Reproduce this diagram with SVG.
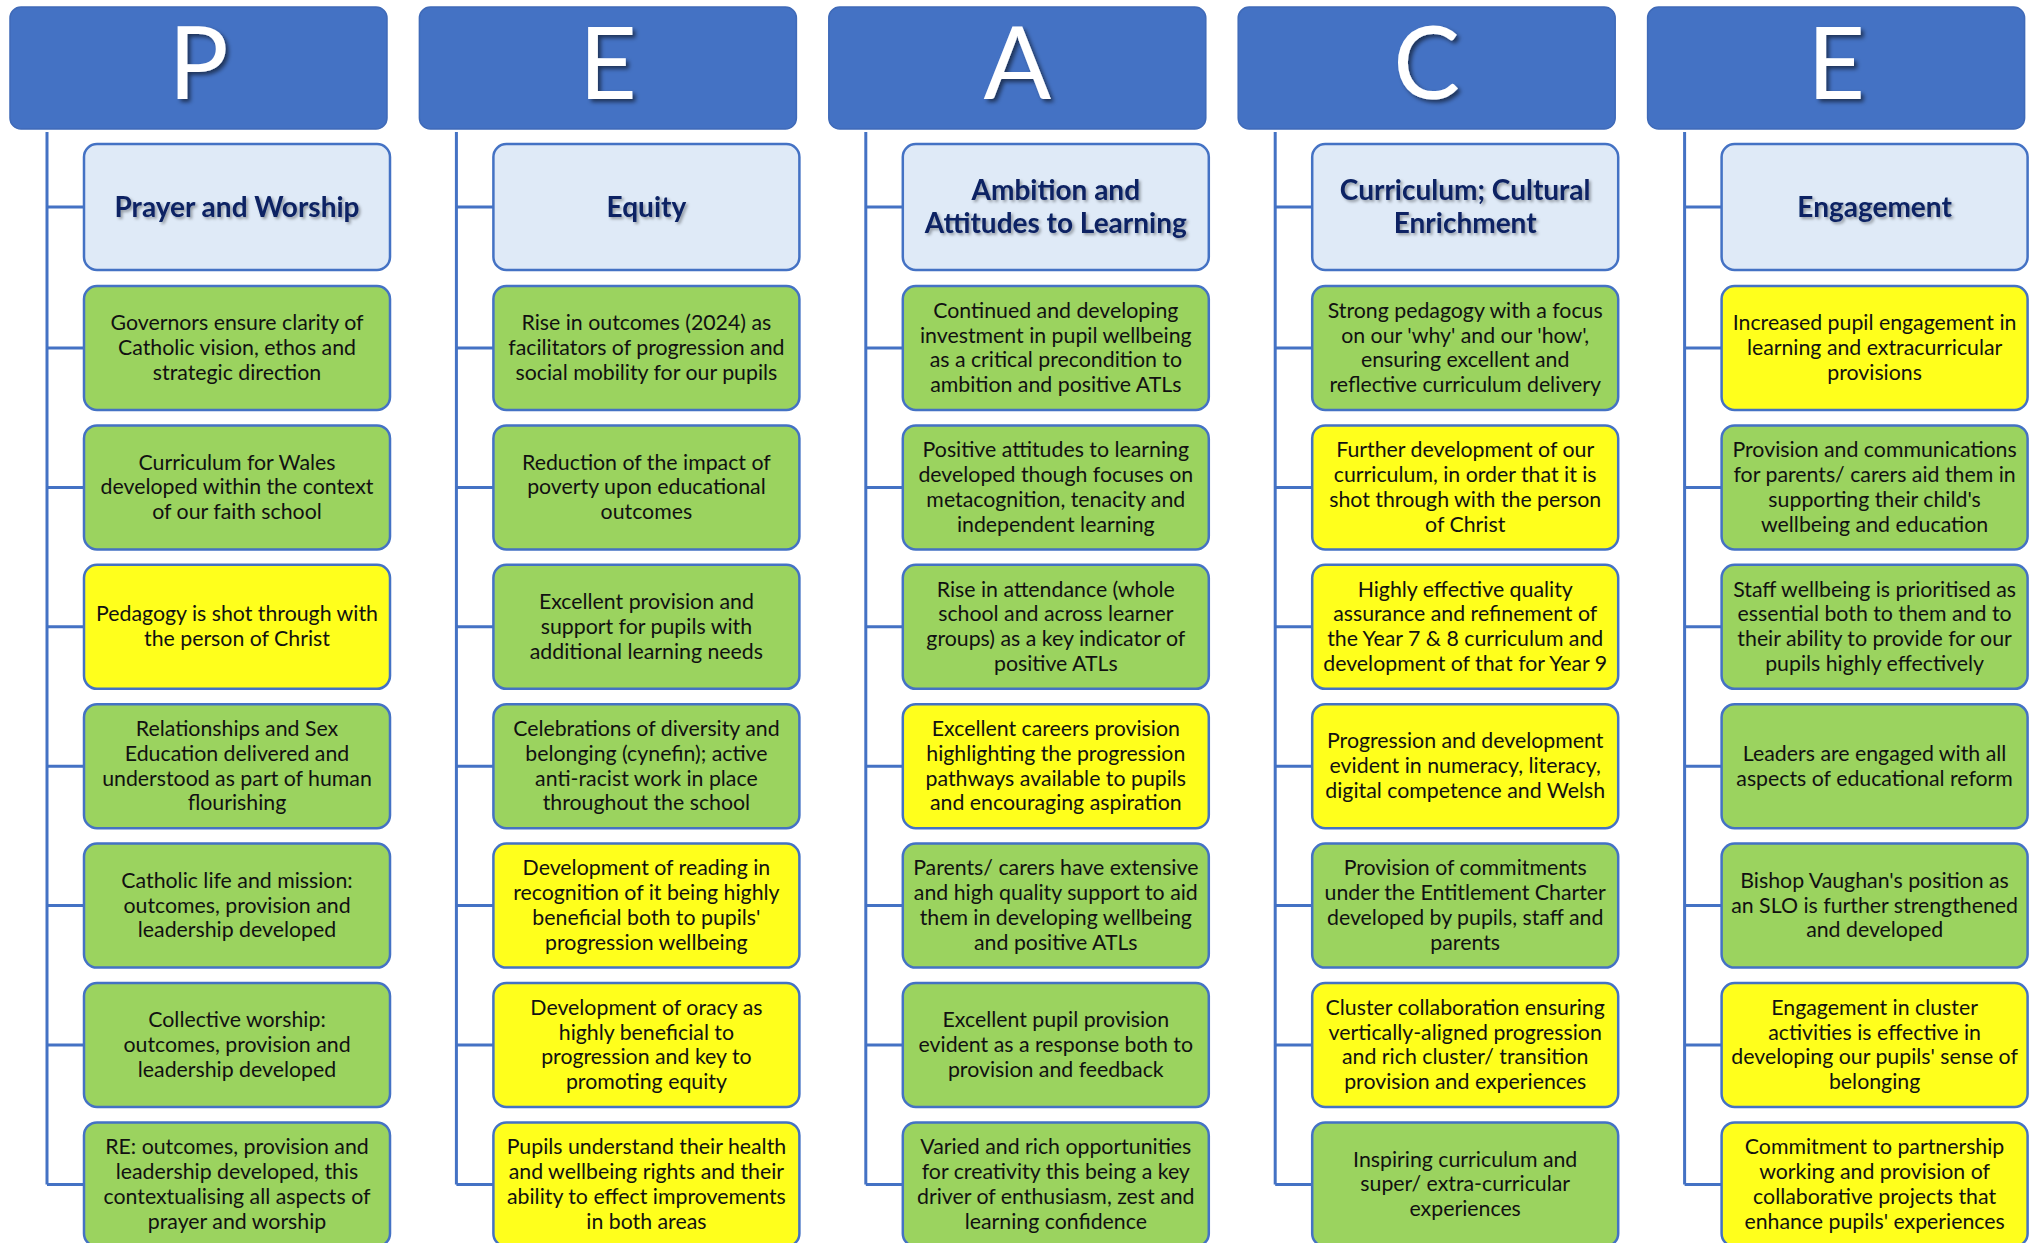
<svg xmlns="http://www.w3.org/2000/svg" width="2037" height="1243" viewBox="0 0 2037 1243">
  <defs>
    <filter id="letterShadow" x="-30%" y="-30%" width="160%" height="160%">
      <feDropShadow dx="3" dy="3" stdDeviation="2" flood-color="#000" flood-opacity="0.55"/>
    </filter>
    <filter id="titleShadow" x="-10%" y="-30%" width="120%" height="160%">
      <feDropShadow dx="2" dy="2" stdDeviation="1.5" flood-color="#000" flood-opacity="0.35"/>
    </filter>
    <style>
      .hdr { fill: #4472C4; stroke: #3F6AB8; stroke-width: 1.5; }
      .letter { font-family: Lato, "Liberation Sans", sans-serif; font-size: 100px; fill: #FFFFFF; text-anchor: middle; filter: url(#letterShadow); }
      .ttl { fill: #DFEAF7; stroke: #4472C4; stroke-width: 2.5; }
      .ttlText { font-family: Lato, "Liberation Sans", sans-serif; font-weight: bold; font-size: 28px; fill: #0B2464; text-anchor: middle; filter: url(#titleShadow); }
      .g { fill: #9BD35F; stroke: #4472C4; stroke-width: 2.5; }
      .y { fill: #FFFF1C; stroke: #4472C4; stroke-width: 2.5; }
      .txt { font-family: Lato, "Liberation Sans", sans-serif; font-size: 21.3px; fill: #111111; text-anchor: middle; }
      .conn { fill: none; stroke: #4472C4; stroke-width: 3; }
    </style>
  </defs>

  <rect width="2037" height="1243" fill="#FFFFFF"/>

  <!-- connectors: a vertical trunk per column with horizontal branches to each box -->
  <g id="connectors" class="conn">
    <path d="M47 132 V1184.4 M47 207 H84 M47 348 H84 M47 487.4 H84 M47 626.8 H84 M47 766.2 H84 M47 905.6 H84 M47 1045 H84 M47 1184.4 H84"/>
    <path d="M456.4 132 V1184.4 M456.4 207 H493.4 M456.4 348 H493.4 M456.4 487.4 H493.4 M456.4 626.8 H493.4 M456.4 766.2 H493.4 M456.4 905.6 H493.4 M456.4 1045 H493.4 M456.4 1184.4 H493.4"/>
    <path d="M865.8 132 V1184.4 M865.8 207 H902.8 M865.8 348 H902.8 M865.8 487.4 H902.8 M865.8 626.8 H902.8 M865.8 766.2 H902.8 M865.8 905.6 H902.8 M865.8 1045 H902.8 M865.8 1184.4 H902.8"/>
    <path d="M1275.2 132 V1184.4 M1275.2 207 H1312.2 M1275.2 348 H1312.2 M1275.2 487.4 H1312.2 M1275.2 626.8 H1312.2 M1275.2 766.2 H1312.2 M1275.2 905.6 H1312.2 M1275.2 1045 H1312.2 M1275.2 1184.4 H1312.2"/>
    <path d="M1684.6 132 V1184.4 M1684.6 207 H1721.6 M1684.6 348 H1721.6 M1684.6 487.4 H1721.6 M1684.6 626.8 H1721.6 M1684.6 766.2 H1721.6 M1684.6 905.6 H1721.6 M1684.6 1045 H1721.6 M1684.6 1184.4 H1721.6"/>
  </g>

  <!-- ===== Column P ===== -->
  <g id="hdr-p"><rect class="hdr" x="10" y="7" width="377" height="122" rx="11"/><text class="letter" x="198.5" y="99">P</text></g>
  <g id="p-title"><rect class="ttl" x="84" y="144" width="306" height="126" rx="13"/><text class="ttlText" x="237" y="217">Prayer and Worship</text></g>
  <g id="p-1"><rect class="g" x="84" y="286" width="306" height="124" rx="13"/>
    <text class="txt" x="237" y="330.2"><tspan x="237">Governors ensure clarity of</tspan><tspan x="237" dy="24.8">Catholic vision, ethos and</tspan><tspan x="237" dy="24.8">strategic direction</tspan></text></g>
  <g id="p-2"><rect class="g" x="84" y="425.4" width="306" height="124" rx="13"/>
    <text class="txt" x="237" y="469.6"><tspan x="237">Curriculum for Wales</tspan><tspan x="237" dy="24.8">developed within the context</tspan><tspan x="237" dy="24.8">of our faith school</tspan></text></g>
  <g id="p-3"><rect class="y" x="84" y="564.8" width="306" height="124" rx="13"/>
    <text class="txt" x="237" y="621.4"><tspan x="237">Pedagogy is shot through with</tspan><tspan x="237" dy="24.8">the person of Christ</tspan></text></g>
  <g id="p-4"><rect class="g" x="84" y="704.2" width="306" height="124" rx="13"/>
    <text class="txt" x="237" y="736"><tspan x="237">Relationships and Sex</tspan><tspan x="237" dy="24.8">Education delivered and</tspan><tspan x="237" dy="24.8">understood as part of human</tspan><tspan x="237" dy="24.8">flourishing</tspan></text></g>
  <g id="p-5"><rect class="g" x="84" y="843.6" width="306" height="124" rx="13"/>
    <text class="txt" x="237" y="887.8"><tspan x="237">Catholic life and mission:</tspan><tspan x="237" dy="24.8">outcomes, provision and</tspan><tspan x="237" dy="24.8">leadership developed</tspan></text></g>
  <g id="p-6"><rect class="g" x="84" y="983" width="306" height="124" rx="13"/>
    <text class="txt" x="237" y="1027.2"><tspan x="237">Collective worship:</tspan><tspan x="237" dy="24.8">outcomes, provision and</tspan><tspan x="237" dy="24.8">leadership developed</tspan></text></g>
  <g id="p-7"><rect class="g" x="84" y="1122.4" width="306" height="124" rx="13"/>
    <text class="txt" x="237" y="1154.2"><tspan x="237">RE: outcomes, provision and</tspan><tspan x="237" dy="24.8">leadership developed, this</tspan><tspan x="237" dy="24.8">contextualising all aspects of</tspan><tspan x="237" dy="24.8">prayer and worship</tspan></text></g>

  <!-- ===== Column E (Equity) ===== -->
  <g id="hdr-e1"><rect class="hdr" x="419.4" y="7" width="377" height="122" rx="11"/><text class="letter" x="607.9" y="99">E</text></g>
  <g id="e1-title"><rect class="ttl" x="493.4" y="144" width="306" height="126" rx="13"/><text class="ttlText" x="646.4" y="217">Equity</text></g>
  <g id="e1-1"><rect class="g" x="493.4" y="286" width="306" height="124" rx="13"/>
    <text class="txt" x="646.4" y="330.2"><tspan x="646.4">Rise in outcomes (2024) as</tspan><tspan x="646.4" dy="24.8">facilitators of progression and</tspan><tspan x="646.4" dy="24.8">social mobility for our pupils</tspan></text></g>
  <g id="e1-2"><rect class="g" x="493.4" y="425.4" width="306" height="124" rx="13"/>
    <text class="txt" x="646.4" y="469.6"><tspan x="646.4">Reduction of the impact of</tspan><tspan x="646.4" dy="24.8">poverty upon educational</tspan><tspan x="646.4" dy="24.8">outcomes</tspan></text></g>
  <g id="e1-3"><rect class="g" x="493.4" y="564.8" width="306" height="124" rx="13"/>
    <text class="txt" x="646.4" y="609"><tspan x="646.4">Excellent provision and</tspan><tspan x="646.4" dy="24.8">support for pupils with</tspan><tspan x="646.4" dy="24.8">additional learning needs</tspan></text></g>
  <g id="e1-4"><rect class="g" x="493.4" y="704.2" width="306" height="124" rx="13"/>
    <text class="txt" x="646.4" y="736"><tspan x="646.4">Celebrations of diversity and</tspan><tspan x="646.4" dy="24.8">belonging (cynefin); active</tspan><tspan x="646.4" dy="24.8">anti-racist work in place</tspan><tspan x="646.4" dy="24.8">throughout the school</tspan></text></g>
  <g id="e1-5"><rect class="y" x="493.4" y="843.6" width="306" height="124" rx="13"/>
    <text class="txt" x="646.4" y="875.4"><tspan x="646.4">Development of reading in</tspan><tspan x="646.4" dy="24.8">recognition of it being highly</tspan><tspan x="646.4" dy="24.8">beneficial both to pupils'</tspan><tspan x="646.4" dy="24.8">progression wellbeing</tspan></text></g>
  <g id="e1-6"><rect class="y" x="493.4" y="983" width="306" height="124" rx="13"/>
    <text class="txt" x="646.4" y="1014.8"><tspan x="646.4">Development of oracy as</tspan><tspan x="646.4" dy="24.8">highly beneficial to</tspan><tspan x="646.4" dy="24.8">progression and key to</tspan><tspan x="646.4" dy="24.8">promoting equity</tspan></text></g>
  <g id="e1-7"><rect class="y" x="493.4" y="1122.4" width="306" height="124" rx="13"/>
    <text class="txt" x="646.4" y="1154.2"><tspan x="646.4">Pupils understand their health</tspan><tspan x="646.4" dy="24.8">and wellbeing rights and their</tspan><tspan x="646.4" dy="24.8">ability to effect improvements</tspan><tspan x="646.4" dy="24.8">in both areas</tspan></text></g>

  <!-- ===== Column A ===== -->
  <g id="hdr-a"><rect class="hdr" x="828.8" y="7" width="377" height="122" rx="11"/><text class="letter" x="1017.3" y="99">A</text></g>
  <g id="a-title"><rect class="ttl" x="902.8" y="144" width="306" height="126" rx="13"/>
    <text class="ttlText" x="1055.8" y="200"><tspan x="1055.8">Ambition and</tspan><tspan x="1055.8" dy="33">Attitudes to Learning</tspan></text></g>
  <g id="a-1"><rect class="g" x="902.8" y="286" width="306" height="124" rx="13"/>
    <text class="txt" x="1055.8" y="317.8"><tspan x="1055.8">Continued and developing</tspan><tspan x="1055.8" dy="24.8">investment in pupil wellbeing</tspan><tspan x="1055.8" dy="24.8">as a critical precondition to</tspan><tspan x="1055.8" dy="24.8">ambition and positive ATLs</tspan></text></g>
  <g id="a-2"><rect class="g" x="902.8" y="425.4" width="306" height="124" rx="13"/>
    <text class="txt" x="1055.8" y="457.2"><tspan x="1055.8">Positive attitudes to learning</tspan><tspan x="1055.8" dy="24.8">developed though focuses on</tspan><tspan x="1055.8" dy="24.8">metacognition, tenacity and</tspan><tspan x="1055.8" dy="24.8">independent learning</tspan></text></g>
  <g id="a-3"><rect class="g" x="902.8" y="564.8" width="306" height="124" rx="13"/>
    <text class="txt" x="1055.8" y="596.6"><tspan x="1055.8">Rise in attendance (whole</tspan><tspan x="1055.8" dy="24.8">school and across learner</tspan><tspan x="1055.8" dy="24.8">groups) as a key indicator of</tspan><tspan x="1055.8" dy="24.8">positive ATLs</tspan></text></g>
  <g id="a-4"><rect class="y" x="902.8" y="704.2" width="306" height="124" rx="13"/>
    <text class="txt" x="1055.8" y="736"><tspan x="1055.8">Excellent careers provision</tspan><tspan x="1055.8" dy="24.8">highlighting the progression</tspan><tspan x="1055.8" dy="24.8">pathways available to pupils</tspan><tspan x="1055.8" dy="24.8">and encouraging aspiration</tspan></text></g>
  <g id="a-5"><rect class="g" x="902.8" y="843.6" width="306" height="124" rx="13"/>
    <text class="txt" x="1055.8" y="875.4"><tspan x="1055.8">Parents/ carers have extensive</tspan><tspan x="1055.8" dy="24.8">and high quality support to aid</tspan><tspan x="1055.8" dy="24.8">them in developing wellbeing</tspan><tspan x="1055.8" dy="24.8">and positive ATLs</tspan></text></g>
  <g id="a-6"><rect class="g" x="902.8" y="983" width="306" height="124" rx="13"/>
    <text class="txt" x="1055.8" y="1027.2"><tspan x="1055.8">Excellent pupil provision</tspan><tspan x="1055.8" dy="24.8">evident as a response both to</tspan><tspan x="1055.8" dy="24.8">provision and feedback</tspan></text></g>
  <g id="a-7"><rect class="g" x="902.8" y="1122.4" width="306" height="124" rx="13"/>
    <text class="txt" x="1055.8" y="1154.2"><tspan x="1055.8">Varied and rich opportunities</tspan><tspan x="1055.8" dy="24.8">for creativity this being a key</tspan><tspan x="1055.8" dy="24.8">driver of enthusiasm, zest and</tspan><tspan x="1055.8" dy="24.8">learning confidence</tspan></text></g>

  <!-- ===== Column C ===== -->
  <g id="hdr-c"><rect class="hdr" x="1238.2" y="7" width="377" height="122" rx="11"/><text class="letter" x="1426.7" y="99">C</text></g>
  <g id="c-title"><rect class="ttl" x="1312.2" y="144" width="306" height="126" rx="13"/>
    <text class="ttlText" x="1465.2" y="200"><tspan x="1465.2">Curriculum; Cultural</tspan><tspan x="1465.2" dy="33">Enrichment</tspan></text></g>
  <g id="c-1"><rect class="g" x="1312.2" y="286" width="306" height="124" rx="13"/>
    <text class="txt" x="1465.2" y="317.8"><tspan x="1465.2">Strong pedagogy with a focus</tspan><tspan x="1465.2" dy="24.8">on our 'why' and our 'how',</tspan><tspan x="1465.2" dy="24.8">ensuring excellent and</tspan><tspan x="1465.2" dy="24.8">reflective curriculum delivery</tspan></text></g>
  <g id="c-2"><rect class="y" x="1312.2" y="425.4" width="306" height="124" rx="13"/>
    <text class="txt" x="1465.2" y="457.2"><tspan x="1465.2">Further development of our</tspan><tspan x="1465.2" dy="24.8">curriculum, in order that it is</tspan><tspan x="1465.2" dy="24.8">shot through with the person</tspan><tspan x="1465.2" dy="24.8">of Christ</tspan></text></g>
  <g id="c-3"><rect class="y" x="1312.2" y="564.8" width="306" height="124" rx="13"/>
    <text class="txt" x="1465.2" y="596.6"><tspan x="1465.2">Highly effective quality</tspan><tspan x="1465.2" dy="24.8">assurance and refinement of</tspan><tspan x="1465.2" dy="24.8">the Year 7 &amp; 8 curriculum and</tspan><tspan x="1465.2" dy="24.8">development of that for Year 9</tspan></text></g>
  <g id="c-4"><rect class="y" x="1312.2" y="704.2" width="306" height="124" rx="13"/>
    <text class="txt" x="1465.2" y="748.4"><tspan x="1465.2">Progression and development</tspan><tspan x="1465.2" dy="24.8">evident in numeracy, literacy,</tspan><tspan x="1465.2" dy="24.8">digital competence and Welsh</tspan></text></g>
  <g id="c-5"><rect class="g" x="1312.2" y="843.6" width="306" height="124" rx="13"/>
    <text class="txt" x="1465.2" y="875.4"><tspan x="1465.2">Provision of commitments</tspan><tspan x="1465.2" dy="24.8">under the Entitlement Charter</tspan><tspan x="1465.2" dy="24.8">developed by pupils, staff and</tspan><tspan x="1465.2" dy="24.8">parents</tspan></text></g>
  <g id="c-6"><rect class="y" x="1312.2" y="983" width="306" height="124" rx="13"/>
    <text class="txt" x="1465.2" y="1014.8"><tspan x="1465.2">Cluster collaboration ensuring</tspan><tspan x="1465.2" dy="24.8">vertically-aligned progression</tspan><tspan x="1465.2" dy="24.8">and rich cluster/ transition</tspan><tspan x="1465.2" dy="24.8">provision and experiences</tspan></text></g>
  <g id="c-7"><rect class="g" x="1312.2" y="1122.4" width="306" height="124" rx="13"/>
    <text class="txt" x="1465.2" y="1166.6"><tspan x="1465.2">Inspiring curriculum and</tspan><tspan x="1465.2" dy="24.8">super/ extra-curricular</tspan><tspan x="1465.2" dy="24.8">experiences</tspan></text></g>

  <!-- ===== Column E (Engagement) ===== -->
  <g id="hdr-e2"><rect class="hdr" x="1647.6" y="7" width="377" height="122" rx="11"/><text class="letter" x="1836.1" y="99">E</text></g>
  <g id="e2-title"><rect class="ttl" x="1721.6" y="144" width="306" height="126" rx="13"/><text class="ttlText" x="1874.6" y="217">Engagement</text></g>
  <g id="e2-1"><rect class="y" x="1721.6" y="286" width="306" height="124" rx="13"/>
    <text class="txt" x="1874.6" y="330.2"><tspan x="1874.6">Increased pupil engagement in</tspan><tspan x="1874.6" dy="24.8">learning and extracurricular</tspan><tspan x="1874.6" dy="24.8">provisions</tspan></text></g>
  <g id="e2-2"><rect class="g" x="1721.6" y="425.4" width="306" height="124" rx="13"/>
    <text class="txt" x="1874.6" y="457.2"><tspan x="1874.6">Provision and communications</tspan><tspan x="1874.6" dy="24.8">for parents/ carers aid them in</tspan><tspan x="1874.6" dy="24.8">supporting their child's</tspan><tspan x="1874.6" dy="24.8">wellbeing and education</tspan></text></g>
  <g id="e2-3"><rect class="g" x="1721.6" y="564.8" width="306" height="124" rx="13"/>
    <text class="txt" x="1874.6" y="596.6"><tspan x="1874.6">Staff wellbeing is prioritised as</tspan><tspan x="1874.6" dy="24.8">essential both to them and to</tspan><tspan x="1874.6" dy="24.8">their ability to provide for our</tspan><tspan x="1874.6" dy="24.8">pupils highly effectively</tspan></text></g>
  <g id="e2-4"><rect class="g" x="1721.6" y="704.2" width="306" height="124" rx="13"/>
    <text class="txt" x="1874.6" y="760.8"><tspan x="1874.6">Leaders are engaged with all</tspan><tspan x="1874.6" dy="24.8">aspects of educational reform</tspan></text></g>
  <g id="e2-5"><rect class="g" x="1721.6" y="843.6" width="306" height="124" rx="13"/>
    <text class="txt" x="1874.6" y="887.8"><tspan x="1874.6">Bishop Vaughan's position as</tspan><tspan x="1874.6" dy="24.8">an SLO is further strengthened</tspan><tspan x="1874.6" dy="24.8">and developed</tspan></text></g>
  <g id="e2-6"><rect class="y" x="1721.6" y="983" width="306" height="124" rx="13"/>
    <text class="txt" x="1874.6" y="1014.8"><tspan x="1874.6">Engagement in cluster</tspan><tspan x="1874.6" dy="24.8">activities is effective in</tspan><tspan x="1874.6" dy="24.8">developing our pupils' sense of</tspan><tspan x="1874.6" dy="24.8">belonging</tspan></text></g>
  <g id="e2-7"><rect class="y" x="1721.6" y="1122.4" width="306" height="124" rx="13"/>
    <text class="txt" x="1874.6" y="1154.2"><tspan x="1874.6">Commitment to partnership</tspan><tspan x="1874.6" dy="24.8">working and provision of</tspan><tspan x="1874.6" dy="24.8">collaborative projects that</tspan><tspan x="1874.6" dy="24.8">enhance pupils' experiences</tspan></text></g>
</svg>
